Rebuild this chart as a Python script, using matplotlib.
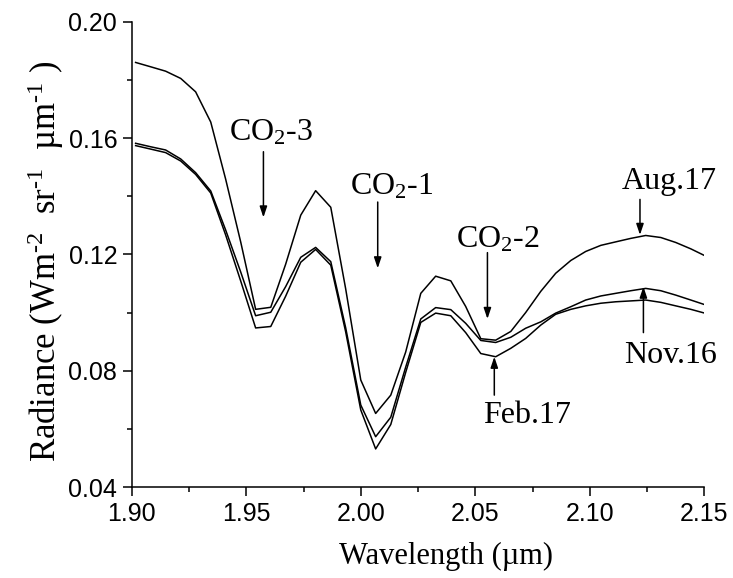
import matplotlib
matplotlib.use("Agg")
import matplotlib.pyplot as plt
from matplotlib.ticker import MultipleLocator, FormatStrFormatter

plt.rcParams['mathtext.fontset'] = 'custom'
plt.rcParams['mathtext.rm'] = 'Liberation Serif'
plt.rcParams['mathtext.it'] = 'Liberation Serif:italic'
plt.rcParams['mathtext.default'] = 'rm'

# Band-centre wavelengths (um)
wavelength = [1.9017, 1.9083, 1.9148, 1.9214, 1.9279, 1.9345, 1.9410, 1.9476,
              1.9541, 1.9607, 1.9672, 1.9738, 1.9803, 1.9869, 1.9934, 2.0000,
              2.0065, 2.0131, 2.0196, 2.0262, 2.0327, 2.0393, 2.0458, 2.0524,
              2.0589, 2.0655, 2.0720, 2.0786, 2.0851, 2.0917, 2.0982, 2.1048,
              2.1113, 2.1179, 2.1244, 2.1310, 2.1375, 2.1441, 2.1506]

# Radiance spectra (W m-2 sr-1 um-1)
aug17 = [0.1860, 0.1845, 0.1830, 0.1805, 0.1759, 0.1655, 0.1459, 0.1242,
         0.1011, 0.1018, 0.1166, 0.1335, 0.1419, 0.1362, 0.1082, 0.0768,
         0.0653, 0.0716, 0.0864, 0.1066, 0.1125, 0.1109, 0.1021, 0.0910,
         0.0905, 0.0935, 0.1000, 0.1073, 0.1135, 0.1179, 0.1210, 0.1231,
         0.1243, 0.1255, 0.1265, 0.1258, 0.1241, 0.1219, 0.1194]

nov16 = [0.1582, 0.1570, 0.1559, 0.1528, 0.1481, 0.1418, 0.1284, 0.1139,
         0.0989, 0.1001, 0.1089, 0.1190, 0.1224, 0.1175, 0.0948, 0.0682,
         0.0573, 0.0640, 0.0812, 0.0978, 0.1017, 0.1010, 0.0963, 0.0904,
         0.0897, 0.0915, 0.0946, 0.0968, 0.0998, 0.1020, 0.1043, 0.1057,
         0.1066, 0.1075, 0.1083, 0.1075, 0.1060, 0.1043, 0.1026]

feb17 = [0.1574, 0.1562, 0.1550, 0.1521, 0.1475, 0.1411, 0.1267, 0.1108,
         0.0947, 0.0952, 0.1056, 0.1173, 0.1217, 0.1163, 0.0934, 0.0665,
         0.0531, 0.0615, 0.0794, 0.0966, 0.0998, 0.0989, 0.0931, 0.0859,
         0.0848, 0.0877, 0.0911, 0.0957, 0.0994, 0.1011, 0.1023, 0.1032,
         0.1037, 0.1040, 0.1043, 0.1035, 0.1023, 0.1011, 0.0997]

# Absorption band labels: (text, text x, text baseline y, arrow x, tail y, tip y)
band_labels = [
    ("CO$_2$-3", 1.9607, 0.1590, 1.9575, 0.1553, 0.1327),
    ("CO$_2$-1", 2.0137, 0.1406, 2.0074, 0.1380, 0.1152),
    ("CO$_2$-2", 2.0597, 0.1225, 2.0553, 0.1206, 0.0978),
]
# Acquisition date labels
date_labels = [
    ("Aug.17", 2.1346, 0.1425, 2.1219, 0.1389, 0.1267),
    ("Nov.16", 2.1354, 0.0828, 2.1234, 0.0931, 0.1089),
    ("Feb.17", 2.0726, 0.0620, 2.0583, 0.0716, 0.0848),
]

fig = plt.figure(figsize=(7.33, 5.78), dpi=100)
ax = fig.add_axes([0.1797, 0.1574, 0.7812, 0.8050])

for series in (aug17, nov16, feb17):
    ax.plot(wavelength, series, color='black', lw=1.1)

ax.set_xlim(1.90, 2.15)
ax.set_ylim(0.04, 0.20)
ax.xaxis.set_major_locator(MultipleLocator(0.05))
ax.xaxis.set_minor_locator(MultipleLocator(0.025))
ax.yaxis.set_major_locator(MultipleLocator(0.04))
ax.yaxis.set_minor_locator(MultipleLocator(0.02))
ax.xaxis.set_major_formatter(FormatStrFormatter('%.2f'))
ax.yaxis.set_major_formatter(FormatStrFormatter('%.2f'))

for side in ('top', 'right'):
    ax.spines[side].set_visible(False)
for side in ('left', 'bottom'):
    ax.spines[side].set_linewidth(1.1)

ax.tick_params(which='major', direction='out', length=6.5, width=1.1,
               labelsize=18, pad=4)
ax.tick_params(which='minor', direction='out', length=3.6, width=1.1)
for lab in ax.get_xticklabels() + ax.get_yticklabels():
    lab.set_fontfamily('Liberation Sans')

ax.set_xlabel("Wavelength (\u00b5m)", fontsize=22, family='Liberation Serif')
ax.set_ylabel("Radiance (Wm$^{\\text{-2}}$  sr$^{\\text{-1}}$  \u00b5m$^{\\text{-1}}$ )",
              fontsize=25, family='Liberation Serif')
ax.xaxis.set_label_coords(0.548, -0.118)
ax.yaxis.set_label_coords(-0.115, 0.485)

arrow_style = dict(arrowstyle='-|>,head_length=0.65,head_width=0.22',
                   color='black', lw=1.1, shrinkA=0, shrinkB=0)

for text, tx, ty, axx, y0, y1 in band_labels + date_labels:
    ax.text(tx, ty, text, ha='center', va='baseline', fontsize=23,
            family='Liberation Serif', clip_on=False)
    ax.annotate("", xy=(axx, y1), xytext=(axx, y0), arrowprops=arrow_style,
                annotation_clip=False)

fig.savefig("out.png", dpi=100)
